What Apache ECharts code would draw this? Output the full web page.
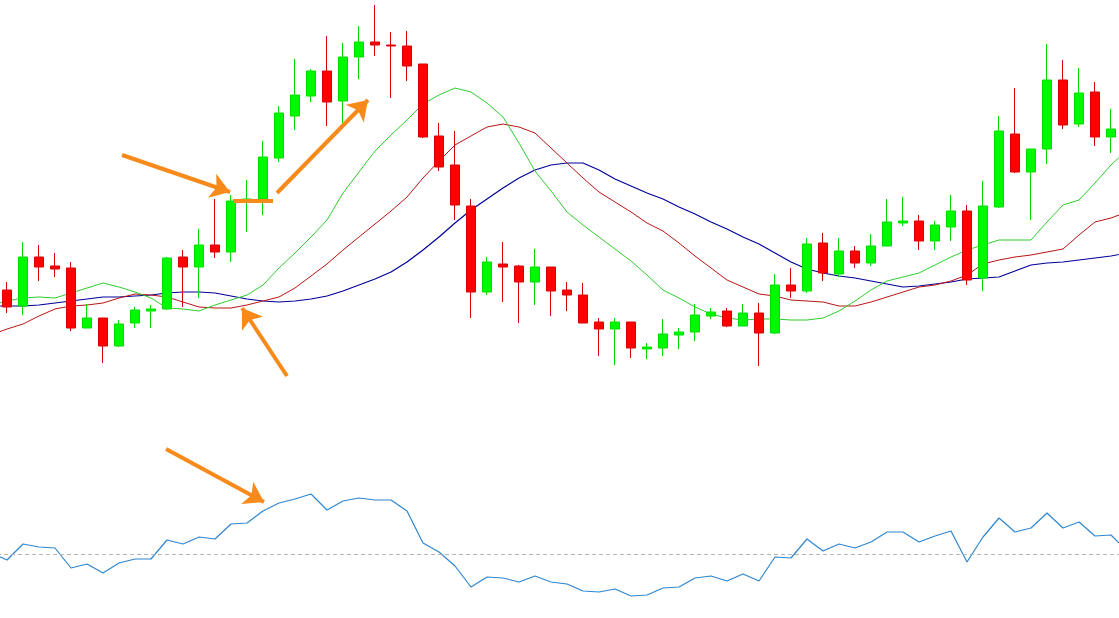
<!DOCTYPE html>
<html><head><meta charset="utf-8">
<script src="https://cdn.jsdelivr.net/npm/echarts@6/dist/echarts.min.js"></script>
<style>html,body{margin:0;padding:0;background:#fff}#c{width:1119px;height:618px}</style>
</head><body><div id="c"></div>
<script>
// 70 visible bars; one partially visible bar slot on each side (index 0 and 71)
const bars = [];
for (let i = 0; i < 72; i++) bars.push('Bar ' + i);

const opens  = [110,94,143,134,132,72,82,54,77,89, 91,143,133,155,148,198,201,242,284,304, 329,299,343,358,355,354,336,264,235,194, 108,136,134,118,133,110,105,78,71,78, 51,52,65,68,84,89,74,87,67,115, 109,157,126,149,137,154,177,179,159,173, 189,122,193,266,228,251,320,276,308,263];
const closes = [93,143,133,131,72,82,54,76,90,91, 142,133,155,148,199,201,243,287,305,329, 298,343,358,355,354,334,263,233,195,108, 138,133,118,133,109,105,77,71,78,52, 53,66,68,85,88,74,87,67,115,109, 156,127,149,137,154,178,179,159,175,189, 120,194,269,228,251,320,275,307,263,271];
const lows   = [87,85,119,123,69,72,37,53,72,72, 90,93,102,142,138,168,185,238,270,298, 274,277,321,344,302,319,262,229,180,82, 105,98,77,95,84,89,77,44,35,42, 41,44,51,59,81,73,74,34,66,102, 107,119,123,132,134,154,174,150,150,159, 115,109,192,227,180,236,271,273,254,247];
const highs  = [118,158,155,147,138,96,82,80,93,95, 143,150,171,201,205,220,259,294,341,331, 364,357,374,395,368,369,336,277,269,201, 143,158,135,151,133,118,117,82,82,78, 57,81,72,96,92,92,96,97,126,132, 162,167,162,154,166,201,203,185,179,205, 195,219,284,312,251,356,340,332,318,291];

// moving averages (fast / medium / slow), incl. the partially visible edge slots
const maFast = [95, 99,102,103,102,107,112,117,113,108,102, 92,91,89,95,100,105,115,132,147,163, 180,207,228,249,265,280,296,305,312,308, 297,283,257,229,209,188,175,163,151,139, 125,110,102,93,86,82,80,81,81,80, 80,82,89,99,110,119,123,127,135,143, 150,155,160,160,160,178,195,200,217,235, 250];
const maMid  = [65, 71,76,84,91,94,95,97,102,106,105, 103,98,93,92,92,95,99,103,112,124, 136,150,163,176,189,203,222,239,255,264, 273,276,273,267,252,237,222,208,198,188, 177,169,157,144,132,120,113,106,104,100, 99,98,94,94,98,103,108,113,115,119, 125,136,140,143,145,148,151,165,178,182, 188];
const maSlow = [94, 94,94,95,97,99,101,103,103,104,105, 107,108,108,107,104,101,99,98,99,101, 104,109,115,121,128,138,150,163,177,190, 201,212,222,230,235,237,237,230,221,214, 207,201,193,186,178,171,163,156,147,138, 131,127,124,122,119,116,113,114,116,118, 121,122,123,129,135,137,138,140,142,144, 147];

// oscillator (lower panel), level line at 0
const oscillator = [1, -6,10,7,6,-14,-10,-19,-9,-5,-5, 14,10,17,15,30,31,43,51,55,60, 44,53,56,54,54,43,11,2,-12,-33, -23,-24,-28,-22,-28,-30,-37,-38,-35,-42, -41,-34,-33,-24,-22,-27,-20,-27,-3,-4, 15,3,10,6,12,22,22,12,18,23, -8,17,36,22,26,41,26,32,18,19, 3];
const oscLevel = 0;

// annotation arrows: [x (bar position), y (value)] pairs
const arrowsTop = [
  [[8.19,245],[14.94,208]],
  [[17.875,207],[23.56,300]],
  [[18.5,24],[15.69,92]]
];
const plainTop = [ [[15.125,199],[17.625,199]] ];
const arrowsBottom = [ [[10.94,105],[17.06,52]] ];

const candleData = [null];
for (let i = 0; i < opens.length; i++) candleData.push([opens[i], closes[i], lows[i], highs[i]]);
candleData.push(null);
const cData = candleData.map(d => d === null ? '-' : d);

const ORANGE = '#f78a1a';
const chart = echarts.init(document.getElementById('c'), null, {renderer: 'canvas'});
chart.setOption({
  animation: false,
  backgroundColor: '#ffffff',
  grid: [
    {left: -17, right: -16, top: 0, height: 400, outerBoundsMode: 'none', containLabel: false},
    {left: -17, right: -16, top: 440, height: 170, outerBoundsMode: 'none', containLabel: false}
  ],
  xAxis: [
    {type: 'category', data: bars, gridIndex: 0, show: false, boundaryGap: true},
    {type: 'category', data: bars, gridIndex: 1, show: false, boundaryGap: true},
    {type: 'value', gridIndex: 0, min: -0.5, max: 71.5, show: false, splitLine: {show: false}},
    {type: 'value', gridIndex: 1, min: -0.5, max: 71.5, show: false, splitLine: {show: false}}
  ],
  yAxis: [
    {type: 'value', gridIndex: 0, min: 0, max: 400, show: false, splitLine: {show: false}},
    {type: 'value', gridIndex: 1, min: -56, max: 114, show: false, splitLine: {show: false}}
  ],
  series: [
    {type: 'line', name: 'MA slow', xAxisIndex: 0, yAxisIndex: 0, data: maSlow, showSymbol: false, symbol: 'none',
     lineStyle: {color: '#000099', width: 1.2}, z: 2},
    {type: 'line', name: 'MA mid', xAxisIndex: 0, yAxisIndex: 0, data: maMid, showSymbol: false, symbol: 'none',
     lineStyle: {color: '#b81414', width: 1}, z: 2},
    {type: 'line', name: 'MA fast', xAxisIndex: 0, yAxisIndex: 0, data: maFast, showSymbol: false, symbol: 'none',
     lineStyle: {color: '#2ecc2e', width: 1}, z: 2},
    {type: 'candlestick', name: 'Price', xAxisIndex: 0, yAxisIndex: 0, data: cData, barWidth: 10, z: 3,
     itemStyle: {color: '#00f800', color0: '#ff0000', borderColor: '#00dc00', borderColor0: '#d40000', borderWidth: 1}},
    {type: 'line', name: 'Oscillator', xAxisIndex: 1, yAxisIndex: 1, data: oscillator, showSymbol: false, symbol: 'none',
     lineStyle: {color: '#2f86cf', width: 1.2}, z: 3,
     markLine: {silent: true, symbol: 'none', label: {show: false},
       lineStyle: {color: '#b4b4b4', type: [4, 3], width: 1},
       data: [{yAxis: oscLevel}]}},
    {type: 'lines', coordinateSystem: 'cartesian2d', xAxisIndex: 2, yAxisIndex: 0, z: 10,
     symbol: ['none', 'arrow'], symbolSize: 19,
     lineStyle: {color: ORANGE, width: 4, opacity: 1, curveness: 0},
     data: arrowsTop.map(c => ({coords: c}))},
    {type: 'lines', coordinateSystem: 'cartesian2d', xAxisIndex: 2, yAxisIndex: 0, z: 10,
     symbol: ['none', 'none'],
     lineStyle: {color: ORANGE, width: 4, opacity: 1, curveness: 0},
     data: plainTop.map(c => ({coords: c}))},
    {type: 'lines', coordinateSystem: 'cartesian2d', xAxisIndex: 3, yAxisIndex: 1, z: 10,
     symbol: ['none', 'arrow'], symbolSize: 19,
     lineStyle: {color: ORANGE, width: 4, opacity: 1, curveness: 0},
     data: arrowsBottom.map(c => ({coords: c}))}
  ]
});
</script></body></html>
